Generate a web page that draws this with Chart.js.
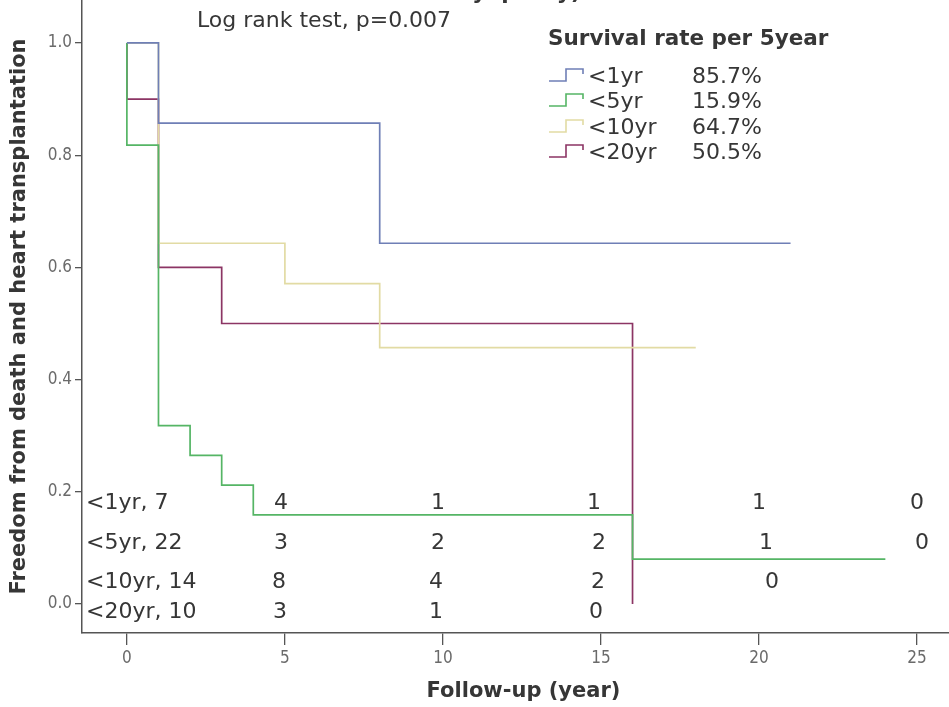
<!DOCTYPE html>
<html>
<head>
<meta charset="utf-8">
<script src="https://cdn.jsdelivr.net/npm/chart.js@4.4.1/dist/chart.umd.min.js"></script>
<style>
  html, body { margin: 0; padding: 0; background: #fff; overflow: hidden; }
  #wrap { position: relative; width: 965px; height: 707px; }
</style>
</head>
<body>
<div id="wrap"><canvas id="km" width="965" height="707"></canvas></div>
<script>
// Kaplan-Meier estimates by age group at diagnosis
const groups = ['<1yr', '<5yr', '<10yr', '<20yr'];
const groupSize = [7, 22, 14, 10];
const survivalPer5yr = ['85.7%', '15.9%', '64.7%', '50.5%'];

const timesLt1 = [0, 1, 8, 21];
const survLt1 = [1.0, 0.857, 0.643, 0.643];

const timesLt5 = [0, 0, 1, 2, 3, 4, 16, 24];
const survLt5 = [1.0, 0.818, 0.318, 0.265, 0.212, 0.159, 0.080, 0.080];

const timesLt10 = [0, 1, 5, 8, 18];
const survLt10 = [1.0, 0.643, 0.571, 0.457, 0.457];

const timesLt20 = [0, 0, 1, 3, 16];
const survLt20 = [1.0, 0.9, 0.6, 0.5, 0.0];

// Axis ticks
const xTicks = [0, 5, 10, 15, 20, 25];
const yTicks = [0.0, 0.2, 0.4, 0.6, 0.8, 1.0];

// Number at risk table
const riskTimes = [5, 10, 15, 20, 25];
const atRisk = [
  [4, 1, 1, 1, 0],
  [3, 2, 2, 1, 0],
  [8, 4, 2, 0],
  [3, 1, 0]
];

// ---- styling / layout ----
const colors = ['#6f7fb6', '#55b565', '#e2dba4', '#8c3564'];
const TEXT = '#363636';
const SANS = '"DejaVu Sans", "Open Sans", sans-serif';
const NARROW = '"DejaVu Sans Condensed", "Liberation Sans Narrow", sans-serif';
const riskRowY = [503, 543, 582, 612];
const riskNudge = [
  [-4, -5, -7, 0, 0],
  [-4, -5, -2, 7, 5],
  [-6, -7, -3, 13],
  [-5, -7, -5]
];
const legendRowY = [77, 102, 128, 153];

function pts(xs, ys) { return xs.map((x, i) => ({ x: x, y: ys[i] })); }
const series = [pts(timesLt1, survLt1), pts(timesLt5, survLt5), pts(timesLt10, survLt10), pts(timesLt20, survLt20)];

function keepTicks(list) {
  return s => { s.ticks = list.map(v => ({ value: v })); };
}
function noEdgePadding(extra) {
  return s => {
    extra(s);
    s.paddingTop = 0; s.paddingBottom = 0; s.paddingLeft = 0; s.paddingRight = 0;
  };
}

const annotations = {
  id: 'kmAnnotations',
  afterDraw(chart) {
    const ctx = chart.ctx;
    const xs = chart.scales.x;
    ctx.save();
    ctx.fillStyle = TEXT;

    // Chart heading (runs off the top edge)
    ctx.font = 'bold 21.5px ' + SANS;
    ctx.textAlign = 'center';
    ctx.textBaseline = 'alphabetic';
    ctx.fillText('Cardiomyopathy)', 476, -1);

    // Log-rank result
    ctx.font = '22px ' + SANS;
    ctx.textAlign = 'left';
    ctx.textBaseline = 'middle';
    ctx.fillText('Log rank test, p=0.007', 197, 21);

    // Legend block
    ctx.font = 'bold 21.5px ' + SANS;
    ctx.fillText('Survival rate per 5year', 548, 39);
    groups.forEach((g, i) => {
      const yc = legendRowY[i];
      ctx.strokeStyle = colors[i];
      ctx.lineWidth = 1.6;
      ctx.beginPath();
      ctx.moveTo(549, yc + 4);
      ctx.lineTo(566, yc + 4);
      ctx.lineTo(566, yc - 8);
      ctx.lineTo(583, yc - 8);
      ctx.lineTo(583, yc - 3);
      ctx.stroke();
      ctx.fillStyle = TEXT;
      ctx.font = '22px ' + SANS;
      ctx.fillText(g, 588, yc);
      ctx.fillText(survivalPer5yr[i], 692, yc);
    });

    // Number at risk
    ctx.font = '22px ' + SANS;
    groups.forEach((g, i) => {
      ctx.textAlign = 'left';
      ctx.fillText(g + ', ' + groupSize[i], 86, riskRowY[i]);
      ctx.textAlign = 'center';
      atRisk[i].forEach((n, j) => {
        ctx.fillText(String(n), xs.getPixelForValue(riskTimes[j]) + riskNudge[i][j], riskRowY[i]);
      });
    });
    ctx.restore();
  }
};

new Chart(document.getElementById('km'), {
  type: 'line',
  data: {
    datasets: groups.map((g, i) => ({
      label: g,
      data: series[i],
      borderColor: colors[i],
      borderWidth: 1.7,
      pointRadius: 0,
      stepped: 'before',
      fill: false
    }))
  },
  options: {
    responsive: false,
    animation: false,
    devicePixelRatio: 1,
    layout: { padding: 0 },
    plugins: { legend: { display: false }, tooltip: { enabled: false }, title: { display: false } },
    scales: {
      x: {
        type: 'linear',
        min: -1.42,
        max: 26.52,
        afterBuildTicks: keepTicks(xTicks),
        afterFit: noEdgePadding(s => { s.height = 74; }),
        ticks: {
          autoSkip: false,
          font: { family: NARROW, size: 17 }, color: '#6a6a6a', padding: 3, maxRotation: 0
        },
        grid: { drawOnChartArea: false, drawTicks: true, tickLength: 12, color: '#555', lineWidth: 1.3 },
        border: { color: '#555', width: 1.5 },
        title: { display: true, text: 'Follow-up (year)', color: TEXT, font: { family: SANS, size: 21, weight: 'bold' }, padding: { top: 0, bottom: 3 } }
      },
      y: {
        type: 'linear',
        min: -0.0517,
        max: 1.0766,
        afterBuildTicks: keepTicks(yTicks),
        afterFit: noEdgePadding(s => { s.width = 82; }),
        ticks: {
          autoSkip: false,
          font: { family: NARROW, size: 17 }, color: '#6a6a6a', padding: 3,
          callback: v => v.toFixed(1)
        },
        grid: { drawOnChartArea: false, drawTicks: true, tickLength: 7, color: '#555', lineWidth: 1.3 },
        border: { color: '#555', width: 1.5 },
        title: { display: true, text: 'Freedom from death and heart transplantation', color: TEXT, font: { family: SANS, size: 21, weight: 'bold' }, padding: { top: 7, bottom: 0 } }
      }
    }
  },
  plugins: [annotations]
});
</script>
</body>
</html>
